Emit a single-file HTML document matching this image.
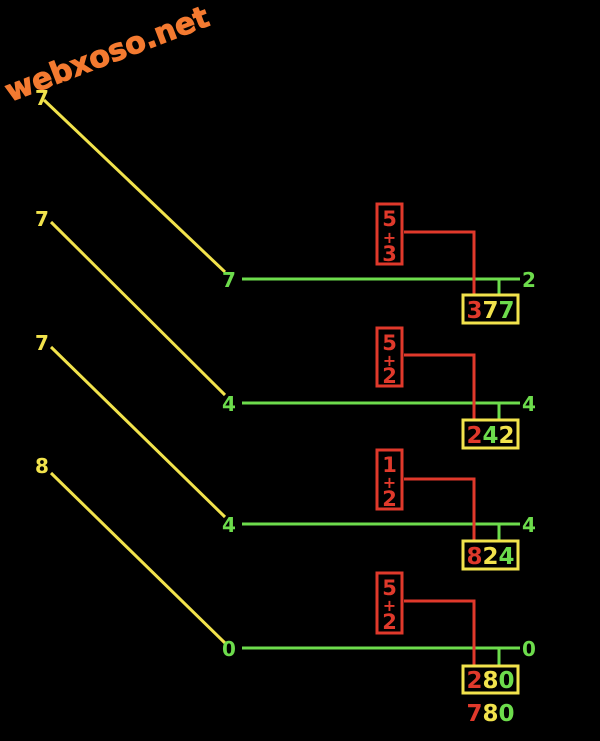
<!DOCTYPE html>
<html><head><meta charset="utf-8"><style>
html,body{margin:0;padding:0;background:#000;width:600px;height:741px;overflow:hidden}
svg{display:block}
text{font-family:"DejaVu Sans","Liberation Sans",sans-serif;font-weight:bold}
</style></head><body>
<svg width="600" height="741" viewBox="0 0 600 741" xmlns="http://www.w3.org/2000/svg">
<rect width="600" height="741" fill="#000"/>
<g stroke="#f2e34c" stroke-width="3" fill="none">
<line x1="44" y1="100" x2="225" y2="272"/>
<line x1="51" y1="222" x2="225" y2="395"/>
<line x1="51" y1="347" x2="225" y2="517"/>
<line x1="51" y1="473" x2="225" y2="643"/>
</g>
<g font-size="20" fill="#f2e34c">
<text x="35" y="105">7</text>
<text x="35" y="226">7</text>
<text x="35" y="350">7</text>
<text x="35" y="473">8</text>
</g>
<g stroke="#6ddc4c" stroke-width="3">
<line x1="242" y1="279" x2="520" y2="279"/><line x1="499" y1="279" x2="499" y2="295"/>
<line x1="242" y1="403" x2="520" y2="403"/><line x1="499" y1="403" x2="499" y2="420"/>
<line x1="242" y1="524" x2="520" y2="524"/><line x1="499" y1="524" x2="499" y2="541"/>
<line x1="242" y1="648" x2="520" y2="648"/><line x1="499" y1="648" x2="499" y2="666"/>
</g>
<g font-size="20" fill="#6ddc4c">
<text x="222" y="287">7</text><text x="522" y="287">2</text>
<text x="222" y="411">4</text><text x="522" y="411">4</text>
<text x="222" y="532">4</text><text x="522" y="532">4</text>
<text x="222" y="656">0</text><text x="522" y="656">0</text>
</g>
<g stroke="#e0392b" stroke-width="3" fill="none">
<rect x="377" y="204" width="25" height="60"/><polyline points="404,232 474,232 474,296"/>
<rect x="377" y="328" width="25" height="58"/><polyline points="404,355 474,355 474,421"/>
<rect x="377" y="450" width="25" height="59"/><polyline points="404,479 474,479 474,542"/>
<rect x="377" y="573" width="25" height="60"/><polyline points="404,601 474,601 474,667"/>
</g>
<g font-size="21" fill="#e0392b" text-anchor="middle">
<text x="389.5" y="226">5</text><text x="389.5" y="243" font-size="16">+</text><text x="389.5" y="261">3</text>
<text x="389.5" y="350">5</text><text x="389.5" y="366" font-size="16">+</text><text x="389.5" y="383">2</text>
<text x="389.5" y="472">1</text><text x="389.5" y="488" font-size="16">+</text><text x="389.5" y="506">2</text>
<text x="389.5" y="595">5</text><text x="389.5" y="611" font-size="16">+</text><text x="389.5" y="629">2</text>
</g>
<g stroke="#f2e34c" stroke-width="3" fill="none">
<rect x="463" y="295" width="55" height="28"/>
<rect x="463" y="420" width="55" height="28"/>
<rect x="463" y="541" width="55" height="28"/>
<rect x="463" y="666" width="55" height="27"/>
</g>
<g font-size="23" text-anchor="middle">
<text x="490.5" y="318"><tspan fill="#e0392b">3</tspan><tspan fill="#f2e34c">7</tspan><tspan fill="#6ddc4c">7</tspan></text>
<text x="490.5" y="443"><tspan fill="#e0392b">2</tspan><tspan fill="#6ddc4c">4</tspan><tspan fill="#f2e34c">2</tspan></text>
<text x="490.5" y="564"><tspan fill="#e0392b">8</tspan><tspan fill="#f2e34c">2</tspan><tspan fill="#6ddc4c">4</tspan></text>
<text x="490.5" y="688"><tspan fill="#e0392b">2</tspan><tspan fill="#f2e34c">8</tspan><tspan fill="#6ddc4c">0</tspan></text>
<text x="490.5" y="721"><tspan fill="#e0392b">7</tspan><tspan fill="#f2e34c">8</tspan><tspan fill="#6ddc4c">0</tspan></text>
</g>
<text x="0" y="0" font-size="30" fill="#f47a30" stroke="#f47a30" stroke-width="1" font-family="'DejaVu Serif','Liberation Serif',serif" transform="translate(10,102) rotate(-21)">webxoso.net</text>
</svg>
</body></html>
